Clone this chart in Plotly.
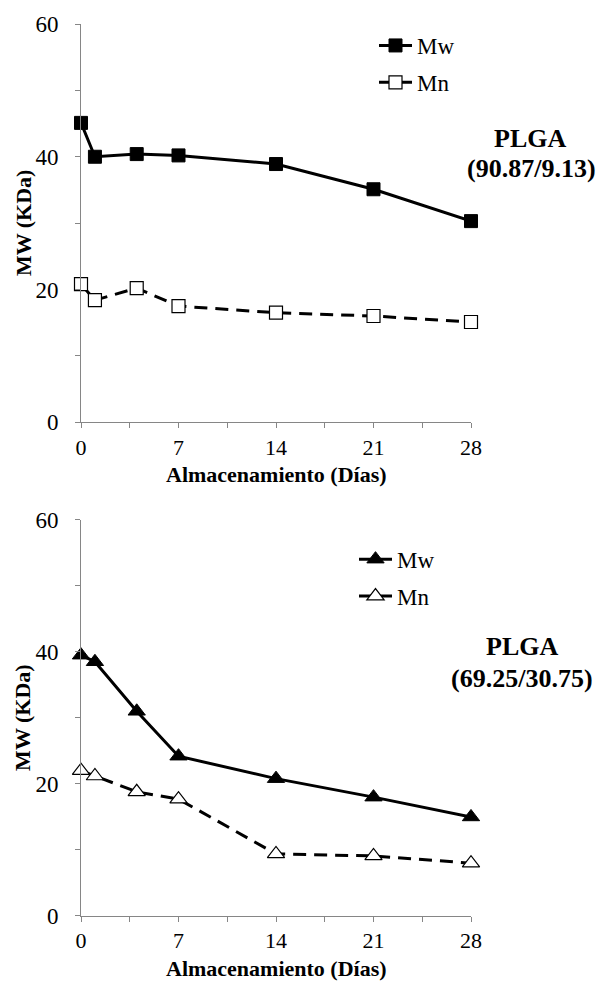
import plotly.graph_objects as go

# Storage time (days) and molecular weights (kDa)
days = [0, 1, 4, 7, 14, 21, 28]
mw_a = [45.1, 40.0, 40.4, 40.2, 38.9, 35.1, 30.3]
mn_a = [20.8, 18.4, 20.2, 17.5, 16.5, 16.0, 15.1]
mw_b = [39.5, 38.5, 31.0, 24.2, 20.8, 18.0, 15.0]
mn_b = [22.0, 21.2, 18.8, 17.7, 9.4, 9.1, 8.0]

x_tickvals = [0, 3.5, 7, 10.5, 14, 17.5, 21, 24.5, 28]
x_ticktext = ["0", "", "7", "", "14", "", "21", "", "28"]
y_tickvals = [0, 10, 20, 30, 40, 50, 60]
y_ticktext = ["0", "", "20", "", "40", "", "60"]

FONT = "'Times New Roman', 'Liberation Serif', serif"
AXIS_GREY = "#868686"

fig = go.Figure()

def add_pair(mw, mn, symbol, size, xa, ya, legend):
    fig.add_trace(go.Scatter(
        x=days, y=mw, name="Mw", mode="lines+markers", cliponaxis=False,
        line=dict(color="black", width=3),
        marker=dict(symbol=symbol, size=size, color="black",
                    line=dict(color="black", width=1)),
        xaxis=xa, yaxis=ya, legend=legend, legendgroup=legend + "w",
    ))
    fig.add_trace(go.Scatter(
        x=days, y=mn, name="Mn", mode="lines+markers", cliponaxis=False,
        line=dict(color="black", width=3, dash="13px,8px"),
        marker=dict(symbol=symbol, size=size, color="white",
                    line=dict(color="black", width=1.2)),
        xaxis=xa, yaxis=ya, legend=legend, legendgroup=legend + "n",
    ))

add_pair(mw_a, mn_a, "square", 13, "x", "y", "legend")
add_pair(mw_b, mn_b, "triangle-up", 15, "x2", "y2", "legend2")

H = 983
L, R = 81, 471
top_px, bottom_px = 20, 67
plot_h = H - top_px - bottom_px


def px_x(px):
    """Convert a page x pixel into paper coordinates."""
    return (px - L) / (R - L)


def py(px):
    """Convert a page y pixel into paper coordinates."""
    return (H - bottom_px - px) / plot_h


xaxis_style = dict(
    range=[0, 28], tickmode="array", tickvals=x_tickvals, ticktext=x_ticktext,
    showline=True, linecolor=AXIS_GREY, linewidth=1, ticks="outside",
    tickcolor=AXIS_GREY, ticklen=5, tickwidth=1, showgrid=False, zeroline=False,
    tickfont=dict(family=FONT, size=22, color="black"),
    ticklabelstandoff=0,
)
yaxis_style = dict(
    range=[0, 60], tickmode="array", tickvals=y_tickvals, ticktext=y_ticktext,
    showline=True, linecolor=AXIS_GREY, linewidth=1, ticks="outside",
    tickcolor=AXIS_GREY, ticklen=5, tickwidth=1, showgrid=False, zeroline=False,
    tickfont=dict(family=FONT, size=23, color="black"),
    ticklabelstandoff=12,
)

legend_common = dict(xanchor="left", yanchor="top",
                     font=dict(family=FONT, size=23, color="black"),
                     bgcolor="rgba(0,0,0,0)", traceorder="grouped",
                     tracegroupgap=4, itemwidth=33)

fig.update_layout(
    width=600, height=H,
    margin=dict(l=L, r=600 - R, t=top_px, b=bottom_px),
    paper_bgcolor="white", plot_bgcolor="white",
    font=dict(family=FONT, color="black"),
    xaxis=dict(domain=[0, 1], anchor="y", **xaxis_style),
    yaxis=dict(domain=[py(420), 1], anchor="x", **yaxis_style),
    xaxis2=dict(domain=[0, 1], anchor="y2", **xaxis_style),
    yaxis2=dict(domain=[0, py(518)], anchor="x2", **yaxis_style),
    legend=dict(x=px_x(374), y=py(20), **legend_common),
    legend2=dict(x=px_x(354), y=py(536), **legend_common),
    showlegend=True,
)

# Axis titles
title_font = dict(family=FONT, size=22, color="black")
for ypx in (473, 969):
    fig.add_annotation(text="<b>Almacenamiento (Días)</b>", x=0.5, y=py(ypx),
                       xref="paper", yref="paper", xanchor="center",
                       yanchor="middle", showarrow=False, borderpad=0,
                       font=title_font)
for ypx in (220, 717):
    fig.add_annotation(text="<b>MW (KDa)</b>", x=px_x(23), y=py(ypx),
                       xref="paper", yref="paper", xanchor="center",
                       yanchor="middle", textangle=-90, showarrow=False,
                       borderpad=0, font=dict(family=FONT, size=22, color="black"))

# Polymer composition labels
ann_font = dict(family=FONT, size=26, color="black")
labels = [
    ("<b>PLGA</b>", 530, 135),
    ("<b>(90.87/9.13)</b>", 531, 165),
    ("<b>PLGA</b>", 522, 645),
    ("<b>(69.25/30.75)</b>", 522, 677),
]
for text, xp, ypx in labels:
    fig.add_annotation(text=text, x=px_x(xp), y=py(ypx),
                       xref="paper", yref="paper", xanchor="center",
                       yanchor="middle", showarrow=False, borderpad=0,
                       font=ann_font)

fig.write_html("out.html")
